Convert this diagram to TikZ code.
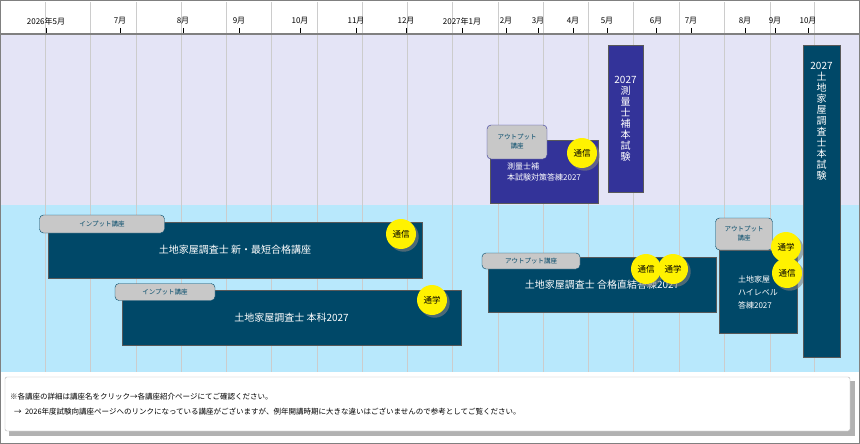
\documentclass[tikz,border=0pt]{standalone}
\usepackage{fontspec}
\setmainfont{Noto Sans CJK JP}
\usetikzlibrary{shadows}
\definecolor{teal}{RGB}{0,72,104}
\definecolor{purp}{RGB}{51,51,153}
\definecolor{lav}{RGB}{228,228,246}
\definecolor{sky}{RGB}{184,232,252}
\definecolor{tagg}{RGB}{200,200,200}
\begin{document}
\begin{tikzpicture}[x=1pt,y=-1pt,
  course/.style={draw=gray!70!black, fill=teal, text=white, font=\fontsize{10}{12}\selectfont},
  tag/.style={draw=teal, fill=tagg, rounded corners=4pt, text=teal, font=\fontsize{6.5}{9}\selectfont, align=center, inner sep=1pt},
  mode/.style={circle, fill=yellow, minimum size=30pt, inner sep=0pt, font=\fontsize{8.5}{10}\selectfont, drop shadow={opacity=0.6}},
  exam/.style={draw=gray!70!black, fill=#1, text=white, font=\fontsize{10}{11}\selectfont, align=center, inner sep=1pt}]
  \useasboundingbox (0,0) rectangle (860,444);
  \fill[white] (0,0) rectangle (860,444);
  % bands
  \fill[lav] (1,35) rectangle (859,205);
  \fill[sky] (1,205) rectangle (859,372);
  \foreach \x in {45.5,90.5,136,181,226.5,271.5,317,362,407.5,452.5,498,543,588.5,633.5,679,724,770,814.6}
    \draw[gray!40] (\x,2) -- (\x,372);
  \draw[gray, line width=1.5pt] (1,34) -- (859,34);
  % months
  \foreach \x/\m in {46/2026年5月,120/7月,183/8月,239/9月,300/10月,356/11月,406/12月,462/2027年1月,506/2月,538/3月,573/4月,607/5月,656/6月,691/7月,745/8月,775/9月,808/10月}{
    \node[font=\fontsize{8}{9}\selectfont, inner sep=0pt] at (\x,21) {\m};
    \draw (\x,28) -- (\x,33);}
  % note box
  \draw[gray!60, fill=black!30] (9,381) rectangle (854,435);
  \draw[gray!60, fill=white, rounded corners=2pt] (5,377) rectangle (850,431);
  \node[anchor=west, font=\fontsize{7.5}{9}\selectfont, inner sep=0pt] (n1) at (10,397) {※各講座の詳細は講座名をクリック→各講座紹介ページにてご確認ください。};
  \node[anchor=west, font=\fontsize{7.5}{9}\selectfont, inner sep=0pt] (n2) at (14,412) {→\ \ 2026年度試験向講座ページへのリンクになっている講座がございますが、例年開講時期に大きな違いはございませんので参考としてご覧ください。};
  % courses
  \node[course, minimum width=374pt, minimum height=56pt] (c1) at (235,250) {土地家屋調査士 新・最短合格講座};
  \node[tag, minimum width=125pt, minimum height=18pt] (t1) at (102,224) {インプット講座};
  \node[mode] (m1) at (401,234) {通信};
  \node[course, minimum width=339pt, minimum height=55pt] (c2) at (291.5,318) {土地家屋調査士 本科2027};
  \node[tag, minimum width=100pt, minimum height=17pt] (t2) at (165,292) {インプット講座};
  \node[mode] (m2) at (432,300) {通学};
  \node[course, fill=purp, minimum width=108pt, minimum height=63pt, align=left, font=\fontsize{8}{11}\selectfont, text depth=-18pt] (c3) at (544,172) {測量士補\\本試験対策答練2027};
  \node[tag, draw=purp, minimum width=60pt, minimum height=34pt] (t3) at (517,142) {アウトプット\\講座};
  \node[mode] (m3) at (582,153) {通信};
  \node[course, minimum width=228pt, minimum height=55pt] (c4) at (602,285) {土地家屋調査士 合格直結答練2027};
  \node[tag, minimum width=98pt, minimum height=16pt] (t4) at (531,261) {アウトプット講座};
  \node[mode] (m4) at (646,269) {通信};
  \node[mode] (m5) at (673,269) {通学};
  \node[course, minimum width=78pt, minimum height=83pt, align=left, font=\fontsize{8}{13}\selectfont, text depth=-8pt] (c5) at (758,292) {土地家屋\\ハイレベル\\答練2027};
  \node[tag, minimum width=57pt, minimum height=32pt] (t5) at (744,234) {アウトプット\\講座};
  \node[mode] (m6) at (786,247) {通学};
  \node[mode] (m7) at (787,273) {通信};
  % exams
  \node[exam=purp, minimum width=35pt, minimum height=147pt, anchor=north] (e1) at (625.5,45) {2027\\測\\量\\士\\補\\本\\試\\験};
  \node[exam=teal, minimum width=37pt, minimum height=312pt, anchor=north, text depth=0pt] (e2) at (821.5,45) {\raisebox{0pt}[0pt][0pt]{}2027\\土\\地\\家\\屋\\調\\査\\士\\本\\試\\験\\[150pt]};
  \draw[gray, line width=1pt] (0.5,0.5) rectangle (859.5,443.5);
\end{tikzpicture}
\end{document}
